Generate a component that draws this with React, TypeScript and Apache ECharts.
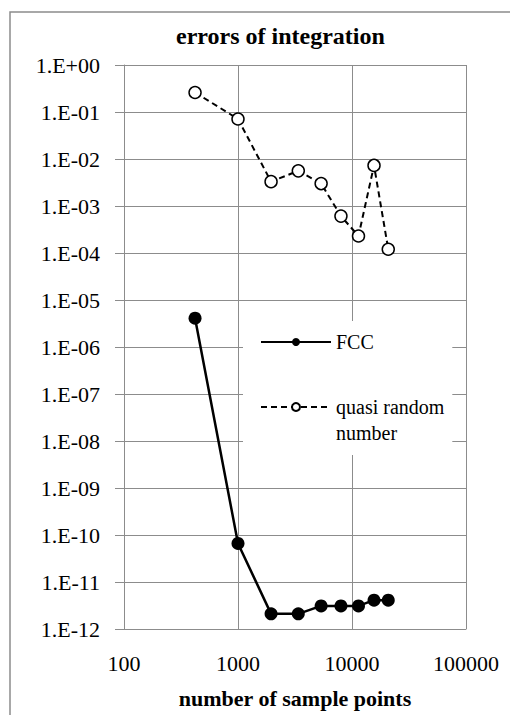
import React, { useEffect, useRef } from "react";
import * as echarts from "echarts";

const samplePoints = [420, 1000, 1950, 3380, 5360, 8000, 11400, 15600, 20800];
const fccErrors = [4.1e-6, 6.6e-11, 2.1e-12, 2.1e-12, 3.1e-12, 3.1e-12, 3.1e-12, 4.1e-12, 4.1e-12];
const quasiErrors = [0.26, 0.071, 0.0033, 0.0056, 0.003, 0.00061, 0.00023, 0.0073, 0.00012];
const seriesNames = ["FCC", "quasi random number"];
const titleText = "errors of integration";
const xAxisTitle = "number of sample points";

const FONT = "Liberation Serif";
const GRID = "#8c8c8c";

function fmtY(v: number): string {
  const e = Math.round(Math.log10(v));
  const sign = e >= 0 ? "+" : "-";
  const a = Math.abs(e);
  return "1.E" + sign + (a < 10 ? "0" + a : String(a));
}

function fmtX(v: number): string {
  return String(Math.round(v));
}

export default function App() {
  const ref = useRef<HTMLDivElement>(null);
  useEffect(() => {
    if (!ref.current) return;
    const chart = echarts.init(ref.current, null, { renderer: "svg" });
    chart.setOption({
      animation: false,
      backgroundColor: "#fff",
      title: {
        text: titleText,
        left: 176,
        top: 24,
        padding: 0,
        textStyle: { fontFamily: FONT, fontSize: 24, fontWeight: "bold", color: "#000" },
      },
      graphic: [
        {
          type: "rect",
          shape: { x: 10, y: 12, width: 540, height: 740 },
          style: { fill: "none", stroke: GRID, lineWidth: 1.5 },
          silent: true,
        },
      ],
      grid: { left: 124, width: 342, top: 65, height: 564, containLabel: false },
      legend: {
        orient: "vertical",
        left: 243,
        top: 321,
        padding: [8, 8, 9, 17],
        itemWidth: 70,
        itemHeight: 10,
        itemGap: 13,
        backgroundColor: "#fff",
        data: seriesNames,
        formatter: (name: string) => (name === seriesNames[1] ? "\nquasi random\nnumber" : name),
        textStyle: { fontFamily: FONT, fontSize: 20, color: "#000", lineHeight: 26 },
      },
      xAxis: {
        type: "log",
        logBase: 10,
        min: 100,
        max: 100000,
        interval: 1,
        splitNumber: 3,
        name: xAxisTitle,
        nameLocation: "middle",
        nameGap: 58,
        nameTextStyle: { fontFamily: FONT, fontSize: 22, fontWeight: "bold", color: "#000" },
        axisLine: { show: true, lineStyle: { color: GRID, width: 1 } },
        axisTick: { show: false },
        axisLabel: { fontFamily: FONT, fontSize: 22, color: "#000", margin: 23, formatter: fmtX },
        splitLine: { show: true, lineStyle: { color: GRID, width: 1 } },
      },
      yAxis: {
        type: "log",
        logBase: 10,
        min: 1e-12,
        max: 1,
        interval: 1,
        splitNumber: 12,
        axisLine: { show: true, lineStyle: { color: GRID, width: 1 } },
        axisTick: { show: true, length: 9, lineStyle: { color: GRID, width: 1 } },
        axisLabel: { fontFamily: FONT, fontSize: 22, color: "#000", margin: 24, formatter: fmtY },
        splitLine: { show: true, lineStyle: { color: GRID, width: 1 } },
      },
      series: [
        {
          name: seriesNames[0],
          type: "line",
          data: samplePoints.map((x, i) => [x, fccErrors[i]]),
          symbol: "circle",
          symbolSize: 13,
          itemStyle: { color: "#000" },
          lineStyle: { color: "#000", width: 2.5 },
          z: 3,
        },
        {
          name: seriesNames[1],
          type: "line",
          data: samplePoints.map((x, i) => [x, quasiErrors[i]]),
          symbol: "circle",
          symbolSize: 12,
          itemStyle: { color: "#fff", borderColor: "#000", borderWidth: 1.5 },
          lineStyle: { color: "#000", width: 2, type: [6, 4] },
          z: 3,
        },
      ],
    });
    return () => chart.dispose();
  }, []);
  return (
    <div
      ref={ref}
      style={{ position: "fixed", left: 0, top: 0, width: 510, height: 715 }}
    />
  );
}
